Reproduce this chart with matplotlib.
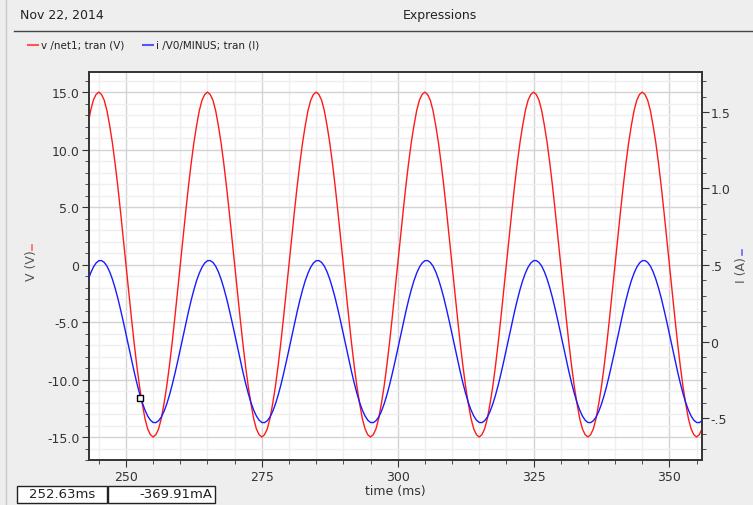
import numpy as np
import matplotlib.pyplot as plt
from matplotlib.patches import Rectangle
from matplotlib.ticker import MultipleLocator

# sample times (ms) and values, 0.5 ms apart
time_ms = np.arange(243.0, 356.5, 0.5)

voltage_v = [
    12.1, 13.4, 14.3, 14.8,
    15.0, 14.8, 14.3, 13.4, 12.1, 10.6, 8.8, 6.8, 4.6, 2.3, 0.0, -2.3, -4.6, -6.8, -8.8, -10.6, -12.1, -13.4, -14.3, -14.8,
    -15.0, -14.8, -14.3, -13.4, -12.1, -10.6, -8.8, -6.8, -4.6, -2.3, 0.0, 2.3, 4.6, 6.8, 8.8, 10.6, 12.1, 13.4, 14.3, 14.8,
    15.0, 14.8, 14.3, 13.4, 12.1, 10.6, 8.8, 6.8, 4.6, 2.3, 0.0, -2.3, -4.6, -6.8, -8.8, -10.6, -12.1, -13.4, -14.3, -14.8,
    -15.0, -14.8, -14.3, -13.4, -12.1, -10.6, -8.8, -6.8, -4.6, -2.3, 0.0, 2.3, 4.6, 6.8, 8.8, 10.6, 12.1, 13.4, 14.3, 14.8,
    15.0, 14.8, 14.3, 13.4, 12.1, 10.6, 8.8, 6.8, 4.6, 2.3, 0.0, -2.3, -4.6, -6.8, -8.8, -10.6, -12.1, -13.4, -14.3, -14.8,
    -15.0, -14.8, -14.3, -13.4, -12.1, -10.6, -8.8, -6.8, -4.6, -2.3, 0.0, 2.3, 4.6, 6.8, 8.8, 10.6, 12.1, 13.4, 14.3, 14.8,
    15.0, 14.8, 14.3, 13.4, 12.1, 10.6, 8.8, 6.8, 4.6, 2.3, 0.0, -2.3, -4.6, -6.8, -8.8, -10.6, -12.1, -13.4, -14.3, -14.8,
    -15.0, -14.8, -14.3, -13.4, -12.1, -10.6, -8.8, -6.8, -4.6, -2.3, 0.0, 2.3, 4.6, 6.8, 8.8, 10.6, 12.1, 13.4, 14.3, 14.8,
    15.0, 14.8, 14.3, 13.4, 12.1, 10.6, 8.8, 6.8, 4.6, 2.3, 0.0, -2.3, -4.6, -6.8, -8.8, -10.6, -12.1, -13.4, -14.3, -14.8,
    -15.0, -14.8, -14.3, -13.4, -12.1, -10.6, -8.8, -6.8, -4.6, -2.3, 0.0, 2.3, 4.6, 6.8, 8.8, 10.6, 12.1, 13.4, 14.3, 14.8,
    15.0, 14.8, 14.3, 13.4, 12.1, 10.6, 8.8, 6.8, 4.6, 2.3, 0.0, -2.3, -4.6, -6.8, -8.8, -10.6, -12.1, -13.4, -14.3, -14.8,
    -15.0, -14.8, -14.3,
]

current_a = [
    0.398, 0.447, 0.486, 0.513,
    0.528, 0.529, 0.517, 0.493, 0.456, 0.408, 0.350, 0.284, 0.210, 0.132, 0.050, -0.033, -0.116, -0.195, -0.270, -0.338, -0.398, -0.447, -0.486, -0.513,
    -0.528, -0.529, -0.517, -0.493, -0.456, -0.408, -0.350, -0.284, -0.210, -0.132, -0.050, 0.033, 0.116, 0.195, 0.270, 0.338, 0.398, 0.447, 0.486, 0.513,
    0.528, 0.529, 0.517, 0.493, 0.456, 0.408, 0.350, 0.284, 0.210, 0.132, 0.050, -0.033, -0.116, -0.195, -0.270, -0.338, -0.398, -0.447, -0.486, -0.513,
    -0.528, -0.529, -0.517, -0.493, -0.456, -0.408, -0.350, -0.284, -0.210, -0.132, -0.050, 0.033, 0.116, 0.195, 0.270, 0.338, 0.398, 0.447, 0.486, 0.513,
    0.528, 0.529, 0.517, 0.493, 0.456, 0.408, 0.350, 0.284, 0.210, 0.132, 0.050, -0.033, -0.116, -0.195, -0.270, -0.338, -0.398, -0.447, -0.486, -0.513,
    -0.528, -0.529, -0.517, -0.493, -0.456, -0.408, -0.350, -0.284, -0.210, -0.132, -0.050, 0.033, 0.116, 0.195, 0.270, 0.338, 0.398, 0.447, 0.486, 0.513,
    0.528, 0.529, 0.517, 0.493, 0.456, 0.408, 0.350, 0.284, 0.210, 0.132, 0.050, -0.033, -0.116, -0.195, -0.270, -0.338, -0.398, -0.447, -0.486, -0.513,
    -0.528, -0.529, -0.517, -0.493, -0.456, -0.408, -0.350, -0.284, -0.210, -0.132, -0.050, 0.033, 0.116, 0.195, 0.270, 0.338, 0.398, 0.447, 0.486, 0.513,
    0.528, 0.529, 0.517, 0.493, 0.456, 0.408, 0.350, 0.284, 0.210, 0.132, 0.050, -0.033, -0.116, -0.195, -0.270, -0.338, -0.398, -0.447, -0.486, -0.513,
    -0.528, -0.529, -0.517, -0.493, -0.456, -0.408, -0.350, -0.284, -0.210, -0.132, -0.050, 0.033, 0.116, 0.195, 0.270, 0.338, 0.398, 0.447, 0.486, 0.513,
    0.528, 0.529, 0.517, 0.493, 0.456, 0.408, 0.350, 0.284, 0.210, 0.132, 0.050, -0.033, -0.116, -0.195, -0.270, -0.338, -0.398, -0.447, -0.486, -0.513,
    -0.528, -0.529, -0.517,
]

x_ticks = [250, 275, 300, 325, 350]
v_ticks = [-15, -10, -5, 0, 5, 10, 15]
v_tick_labels = ['-15.0', '-10.0', '-5.0', '0', '5.0', '10.0', '15.0']
i_ticks = [-0.5, 0, 0.5, 1.0, 1.5]
i_tick_labels = ['-.5', '0', '.5', '1.0', '1.5']

cursor_t = 252.63
cursor_i = -0.36991

RED = '#ff1a1a'
BLUE = '#1a1aff'
TXT = '#333333'

fig = plt.figure(figsize=(7.53, 5.06), dpi=100, facecolor='#eeeeee')
ax = fig.add_axes([89 / 753, 1 - 461 / 506, (702 - 89) / 753, (461 - 73) / 506])
ax.set_facecolor('white')

ax.plot(time_ms, voltage_v, color=RED, lw=1.0, zorder=3)
ax.set_xlim(243.2, 356.0)
ax.set_ylim(-17.0, 16.75)

ax.set_xticks(x_ticks)
ax.xaxis.set_minor_locator(MultipleLocator(5))
ax.set_yticks(v_ticks)
ax.set_yticklabels(v_tick_labels)
ax.yaxis.set_minor_locator(MultipleLocator(1))

ax.grid(which='major', color='#d4d4d4', lw=1.0)
ax.grid(which='minor', color='#efefef', lw=1.0)
ax.set_axisbelow(True)

ax.tick_params(which='major', direction='out', length=5, color='#333333',
               labelsize=9, labelcolor=TXT, pad=2)
ax.tick_params(which='minor', direction='out', length=3, color='#333333')
for s in ax.spines.values():
    s.set_color('#333333')
    s.set_linewidth(1.2)

ax2 = ax.twinx()
ax2.plot(time_ms, current_a, color=BLUE, lw=1.0, zorder=3)
ax2.plot([cursor_t], [cursor_i], marker='s', ms=4, mfc='white', mec='black',
         mew=1.0, zorder=4)
ax2.set_ylim(-0.773, 1.76)
ax2.set_yticks(i_ticks)
ax2.set_yticklabels(i_tick_labels)
ax2.yaxis.set_minor_locator(MultipleLocator(0.1))
ax2.tick_params(which='major', direction='out', length=5, color='#333333',
                labelsize=9, labelcolor=TXT, pad=1)
ax2.tick_params(which='minor', direction='out', length=3, color='#333333')
for s in ax2.spines.values():
    s.set_color('#333333')
    s.set_linewidth(1.2)

ax.set_xlabel('time (ms)', fontsize=9, color=TXT, labelpad=1)

# axis titles with coloured marks
fig.text(32 / 753, 1 - 266 / 506, 'V (V)', rotation=90, fontsize=9,
         color='#555555', ha='center', va='center')
fig.text(742 / 753, 1 - 270 / 506, 'I (A)', rotation=90, fontsize=9,
         color='#555555', ha='center', va='center')
fig.add_artist(plt.Line2D([32 / 753, 32 / 753], [1 - 251 / 506, 1 - 246 / 506],
                          color='#ff6666', lw=1.2))
fig.add_artist(plt.Line2D([742 / 753, 742 / 753], [1 - 256 / 506, 1 - 251 / 506],
                          color='#6666ff', lw=1.2))

# header
fig.text(20 / 753, 1 - 16 / 506, 'Nov 22, 2014', fontsize=9, color='#222222',
         ha='left', va='center')
fig.text(440 / 753, 1 - 16 / 506, 'Expressions', fontsize=9, color='#222222',
         ha='center', va='center')
fig.add_artist(plt.Line2D([14 / 753, 1.0], [1 - 32 / 506, 1 - 32 / 506],
                          color='#444444', lw=1.0))
fig.add_artist(plt.Line2D([6 / 753, 6 / 753], [0, 1], color='#c8c8c8', lw=1.0))

# legend
fig.add_artist(plt.Line2D([28 / 753, 38 / 753], [1 - 46 / 506, 1 - 46 / 506],
                          color='#ff5555', lw=1.5))
fig.text(41 / 753, 1 - 46 / 506, 'v /net1; tran (V)', fontsize=7.5,
         color='#222222', ha='left', va='center')
fig.add_artist(plt.Line2D([143 / 753, 153 / 753], [1 - 46 / 506, 1 - 46 / 506],
                          color='#5555ff', lw=1.5))
fig.text(156 / 753, 1 - 46 / 506, 'i /V0/MINUS; tran (I)', fontsize=7.5,
         color='#222222', ha='left', va='center')

# cursor readout boxes
for x0, x1 in [(17, 107), (108, 215)]:
    fig.add_artist(Rectangle((x0 / 753, 1 - 504 / 506), (x1 - x0) / 753, 17 / 506,
                             transform=fig.transFigure, facecolor='white',
                             edgecolor='#222222', lw=1.0))
fig.text(62 / 753, 1 - 495 / 506, '{:.2f}ms'.format(cursor_t), fontsize=9.5,
         color='#222222', ha='center', va='center')
fig.text(212 / 753, 1 - 495 / 506, '{:.2f}mA'.format(cursor_i * 1000),
         fontsize=9.5, color='#222222', ha='right', va='center')

fig.savefig('out.png', dpi=100, facecolor=fig.get_facecolor())
